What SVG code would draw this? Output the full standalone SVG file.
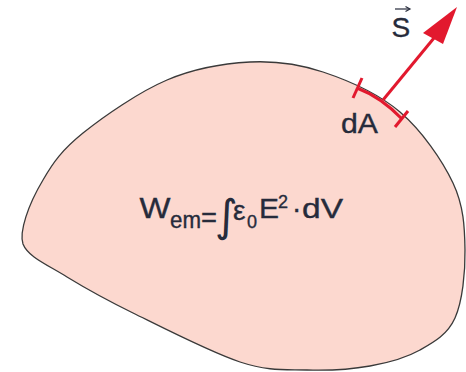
<svg xmlns="http://www.w3.org/2000/svg" width="466" height="372" viewBox="0 0 466 372">
<style>
.t{font-family:"Liberation Sans",Arial,sans-serif;fill:#262b3b;stroke:#262b3b;stroke-width:0.35}
.red{stroke:#e2192e;fill:none;stroke-width:3}
</style>
<rect width="466" height="372" fill="#fff"/>
<g id="volume">
<path d="M23,244 C19,232 28,205 43,180 C53.17,162.17 62.33,149.67 83,133 C103.67,116.33 139.17,91.83 167,80 C194.83,68.17 224,63.33 250,62 C276,60.67 298,63.67 323,72 C348,80.33 378.33,93.5 400,112 C421.67,130.5 442.17,160 453,183 C463.83,206 464.67,227.5 465,250 C465.33,272.5 462.5,301.33 455,318 C447.5,334.67 434.17,342 420,350 C405.83,358 388.83,362.67 370,366 C351.17,369.33 328.67,370.67 307,370 C285.33,369.33 269,371.5 240,362 C211,352.5 161.83,327.17 133,313 C104.17,298.83 83.67,287.17 67,277 C48,265 28,257 23,244 Z" fill="#fcd8cf" stroke="#3a3a3a" stroke-width="1.3"/>
</g>
<g id="connectors">
<path class="red" d="M357,88 Q381,97 402,119"/>
<line class="red" x1="362" y1="78" x2="353" y2="98"/>
<line class="red" x1="408" y1="111" x2="395" y2="127"/>
<line class="red" x1="383" y1="100" x2="434" y2="38"/>
<path d="M457,7 L423,33 L443,44 Z" fill="#e2192e"/>
</g>
<g id="labels">
<text class="t" x="391.5" y="37" font-size="28">S</text>
<line x1="395" y1="9" x2="409" y2="9" stroke="#262b3b" stroke-width="1.2"/>
<path d="M405.5,6.5 L410,9 L405.5,11.5" fill="none" stroke="#262b3b" stroke-width="1.2"/>
<text class="t" x="341" y="133" font-size="28" textLength="37" lengthAdjust="spacingAndGlyphs">dA</text>
<text class="t" x="139.5" y="218" font-size="29" textLength="31" lengthAdjust="spacingAndGlyphs">W</text>
<text class="t" x="170" y="228" font-size="23" textLength="31" lengthAdjust="spacingAndGlyphs">em</text>
<text class="t" x="201" y="227" font-size="28" textLength="16" lengthAdjust="spacingAndGlyphs">=</text>
<text x="215" y="231" font-size="44" font-family="DejaVu Sans,sans-serif" fill="#262b3b">∫</text>
<text class="t" x="233" y="220" font-size="28">ε</text>
<text class="t" x="247" y="228" font-size="18">0</text>
<text class="t" x="259" y="218" font-size="28" textLength="20" lengthAdjust="spacingAndGlyphs">E</text>
<text class="t" x="278" y="208" font-size="18">2</text>
<text class="t" x="292" y="218" font-size="28">·</text>
<text class="t" x="302" y="218" font-size="28" textLength="41" lengthAdjust="spacingAndGlyphs">dV</text>
</g>
</svg>
